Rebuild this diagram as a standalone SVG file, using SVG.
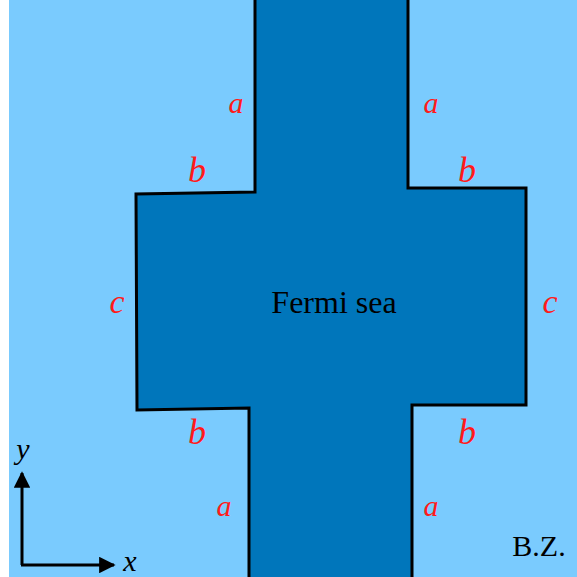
<svg xmlns="http://www.w3.org/2000/svg" width="577" height="577" viewBox="0 0 577 577">
<style>
.lbl{font-family:"Liberation Serif","DejaVu Serif",serif;font-style:italic;fill:#ff1a1a;text-anchor:middle}
.txt{font-family:"Liberation Serif","DejaVu Serif",serif;fill:#000;text-anchor:middle}
.ax{stroke:#000;stroke-width:3;fill:none}
</style>
<defs>
<marker id="arr" viewBox="0 0 10 10" refX="9" refY="5" markerWidth="5.5" markerHeight="5.5" orient="auto" markerUnits="strokeWidth">
<path d="M0,0 L10,5 L0,10 z" fill="#000"/>
</marker>
</defs>
<rect id="bz" x="9" y="0" width="568" height="577" fill="#7acbfe"/>
<g id="fermi-sea">
<path d="M255,-5 L255,192 L136,194 L137,410 L249,408 L249,582 L412,582 L412,405 L526,405 L526,188 L408,188 L408,-5 Z" fill="#0076bb" stroke="#000" stroke-width="3" stroke-linejoin="miter"/>
<text class="txt" x="334" y="313" font-size="32">Fermi sea</text>
</g>
<g id="labels">
<text class="lbl" x="236" y="113" font-size="30">a</text>
<text class="lbl" x="431" y="113" font-size="30">a</text>
<text class="lbl" x="197" y="182" font-size="36">b</text>
<text class="lbl" x="467" y="182" font-size="36">b</text>
<text class="lbl" x="117" y="313" font-size="34">c</text>
<text class="lbl" x="550" y="313" font-size="34">c</text>
<text class="lbl" x="197" y="444" font-size="36">b</text>
<text class="lbl" x="467" y="444" font-size="36">b</text>
<text class="lbl" x="224" y="516" font-size="30">a</text>
<text class="lbl" x="431" y="516" font-size="30">a</text>
</g>
<g id="connectors">
<path class="ax" d="M22,565 L22,473" marker-end="url(#arr)"/>
<path class="ax" d="M21,565 L114,565" marker-end="url(#arr)"/>
</g>
<g id="axis-labels">
<text class="txt" x="23" y="459" font-size="30" font-style="italic">y</text>
<text class="txt" x="130" y="571" font-size="30" font-style="italic">x</text>
<text class="txt" x="539" y="556" font-size="30">B.Z.</text>
</g>
</svg>
